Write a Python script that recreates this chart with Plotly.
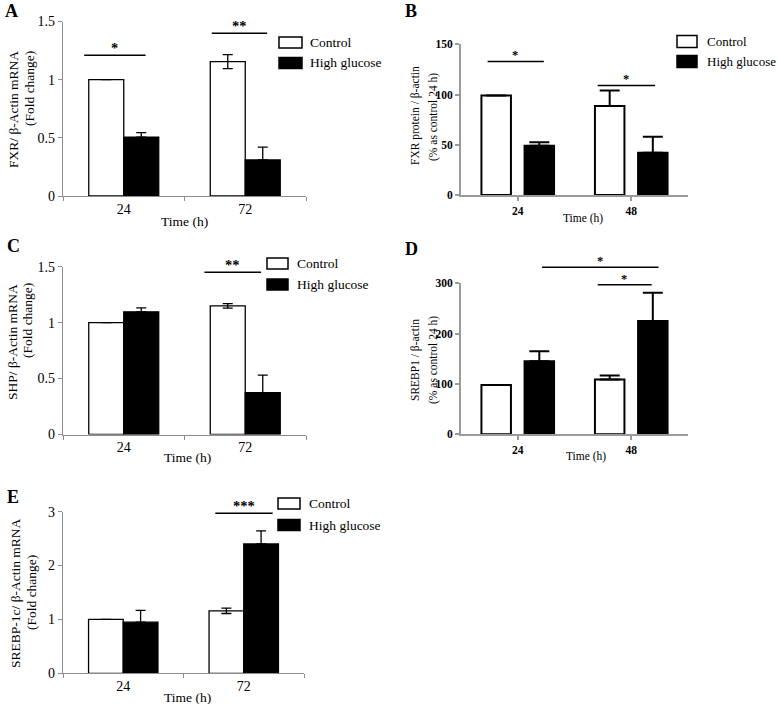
import plotly.graph_objects as go

W, H = 778, 704
SERIF = "Liberation Serif, Times New Roman, serif"

# ---------------- data ----------------
# Panel A: FXR mRNA
a_times = ["24", "72"]
a_control = [1.00, 1.155]
a_control_err = [0.0, 0.06]
a_control_err_minus = [0.0, 0.06]
a_hg = [0.505, 0.31]
a_hg_err = [0.04, 0.11]
a_yticks = [0, 0.5, 1, 1.5]
a_sig_x0 = [-0.33, 0.72]
a_sig_x1 = [0.18, 1.18]
a_sig_y = [1.21, 1.40]
a_sig_text = ["*", "**"]

# Panel B: FXR protein
b_times = ["24", "48"]
b_control = [99, 88.5]
b_control_err = [0, 15.5]
b_control_err_minus = [0, 0]
b_hg = [49, 42]
b_hg_err = [3.5, 16]
b_yticks = [0, 50, 100, 150]
b_sig_x0 = [-0.27, 0.70]
b_sig_x1 = [0.23, 1.21]
b_sig_y = [133, 109]
b_sig_text = ["*", "*"]

# Panel C: SHP mRNA
c_times = ["24", "72"]
c_control = [1.00, 1.15]
c_control_err = [0.0, 0.02]
c_control_err_minus = [0.0, 0.02]
c_hg = [1.097, 0.375]
c_hg_err = [0.035, 0.155]
c_yticks = [0, 0.5, 1, 1.5]
c_sig_x0 = [0.66]
c_sig_x1 = [1.13]
c_sig_y = [1.45]
c_sig_text = ["**"]

# Panel D: SREBP1 protein
d_times = ["24", "48"]
d_control = [98, 109]
d_control_err = [0, 8]
d_control_err_minus = [0, 0]
d_hg = [145, 225]
d_hg_err = [20, 56]
d_yticks = [0, 100, 200, 300]
d_sig_x0 = [0.21, 0.70]
d_sig_x1 = [1.24, 1.18]
d_sig_y = [332, 297]
d_sig_text = ["*", "*"]

# Panel E: SREBP-1c mRNA
e_times = ["24", "72"]
e_control = [1.00, 1.16]
e_control_err = [0.0, 0.05]
e_control_err_minus = [0.0, 0.05]
e_hg = [0.95, 2.40]
e_hg_err = [0.22, 0.245]
e_yticks = [0, 1, 2, 3]
e_sig_x0 = [0.76]
e_sig_x1 = [1.24]
e_sig_y = [2.97]
e_sig_text = ["***"]

series_names = ["Control", "High glucose"]
x_title = "Time (h)"


def fx(px):
    return px / W


def fy(py):
    return 1 - py / H


excel = dict(style="excel", font=13.5, tickfont=14, axcolor="#8c8c8c", axw=1.2,
             barline=1.3, barw=0.288, off_c=-0.288, off_h=0.0, ew=5, et=1.3,
             tickson="boundaries", tickbold=False, legfont=13.5)
prism = dict(style="prism", font=11.5, tickfont=11.5, axcolor="#9a9a9a", axw=2,
             barline=2, barw=0.26, off_c=-0.32, off_h=0.06, ew=10, et=2,
             tickson="labels", tickbold=True, legfont=13)

panels = [
    dict(letter="A", st=excel, times=a_times, ctrl=a_control, ctrl_e=a_control_err,
         ctrl_em=a_control_err_minus, hg=a_hg, hg_e=a_hg_err, yticks=a_yticks,
         sx0=a_sig_x0, sx1=a_sig_x1, sy=a_sig_y, st_text=a_sig_text,
         ytitle=["FXR/ β-Actin mRNA", "(Fold change)"],
         x0=63, x1=306, ybot=196, ytop=21.5, letter_pos=(3, 11),
         ytitle_x=(13, 29), ytitle_y=(110, 89), xtitle_pos=(184, 221),
         legend=dict(bx0=279, bx1=302, y=(42.5, 63), h=11, tx=308)),
    dict(letter="B", st=prism, times=b_times, ctrl=b_control, ctrl_e=b_control_err,
         ctrl_em=b_control_err_minus, hg=b_hg, hg_e=b_hg_err, yticks=b_yticks,
         sx0=b_sig_x0, sx1=b_sig_x1, sy=b_sig_y, st_text=b_sig_text,
         ytitle=["FXR protein / β-actin", "(% as control 24 h)"],
         x0=461, x1=688, ybot=195, ytop=44.3, letter_pos=(403, 11),
         ytitle_x=(415, 433), ytitle_y=(116, 117), xtitle_pos=(583, 219),
         legend=dict(bx0=677, bx1=697, y=(41.5, 61.5), h=12, tx=705)),
    dict(letter="C", st=excel, times=c_times, ctrl=c_control, ctrl_e=c_control_err,
         ctrl_em=c_control_err_minus, hg=c_hg, hg_e=c_hg_err, yticks=c_yticks,
         sx0=c_sig_x0, sx1=c_sig_x1, sy=c_sig_y, st_text=c_sig_text,
         ytitle=["SHP/ β-Actin mRNA", "(Fold change)"],
         x0=63, x1=306, ybot=434.5, ytop=266.7, letter_pos=(5, 246),
         ytitle_x=(12, 27), ytitle_y=(342, 321), xtitle_pos=(187, 458),
         legend=dict(bx0=267, bx1=288, y=(263.5, 284.5), h=11, tx=295)),
    dict(letter="D", st=prism, times=d_times, ctrl=d_control, ctrl_e=d_control_err,
         ctrl_em=d_control_err_minus, hg=d_hg, hg_e=d_hg_err, yticks=d_yticks,
         sx0=d_sig_x0, sx1=d_sig_x1, sy=d_sig_y, st_text=d_sig_text,
         ytitle=["SREBP1 / β-actin", "(% as control 24 h)"],
         x0=461, x1=688, ybot=434.3, ytop=283.3, letter_pos=(403, 249),
         ytitle_x=(415, 433), ytitle_y=(360, 360), xtitle_pos=(586, 456),
         legend=None),
    dict(letter="E", st=excel, times=e_times, ctrl=e_control, ctrl_e=e_control_err,
         ctrl_em=e_control_err_minus, hg=e_hg, hg_e=e_hg_err, yticks=e_yticks,
         sx0=e_sig_x0, sx1=e_sig_x1, sy=e_sig_y, st_text=e_sig_text,
         ytitle=["SREBP-1c/ β-Actin mRNA", "(Fold change)"],
         x0=63, x1=304, ybot=673.3, ytop=511.7, letter_pos=(5, 497),
         ytitle_x=(15, 31), ytitle_y=(593, 593), xtitle_pos=(187, 697),
         legend=dict(bx0=278, bx1=300, y=(503.5, 525), h=11, tx=307)),
]

fig = go.Figure()
annotations = []
shapes = []
layout_axes = {}

for i, p in enumerate(panels, start=1):
    st = p["st"]
    xa = "x" if i == 1 else f"x{i}"
    ya = "y" if i == 1 else f"y{i}"
    ymax = p["yticks"][-1]

    fig.add_trace(go.Bar(
        x=p["times"], y=p["ctrl"], width=st["barw"], offset=st["off_c"],
        name=series_names[0], showlegend=False, hoverinfo="skip",
        marker=dict(color="white", line=dict(color="black", width=st["barline"])),
        error_y=dict(type="data", symmetric=False, array=p["ctrl_e"],
                     arrayminus=p["ctrl_em"], color="black",
                     thickness=st["et"], width=st["ew"]),
        xaxis=xa, yaxis=ya))
    fig.add_trace(go.Bar(
        x=p["times"], y=p["hg"], width=st["barw"], offset=st["off_h"],
        name=series_names[1], showlegend=False, hoverinfo="skip",
        marker=dict(color="black", line=dict(color="black", width=st["barline"])),
        error_y=dict(type="data", symmetric=False, array=p["hg_e"],
                     arrayminus=[0] * len(p["hg_e"]), color="black",
                     thickness=st["et"], width=st["ew"]),
        xaxis=xa, yaxis=ya))

    tickfont = dict(family=SERIF, size=st["tickfont"], color="black",
                    weight="bold" if st["tickbold"] else "normal")

    layout_axes["xaxis" if i == 1 else f"xaxis{i}"] = dict(
        domain=[fx(p["x0"]), fx(p["x1"])], anchor=ya, type="category",
        categoryorder="array", categoryarray=p["times"], range=[-0.5, 1.5],
        showline=True, linecolor=st["axcolor"], linewidth=st["axw"],
        ticks="outside", ticklen=4, tickcolor=st["axcolor"], tickwidth=st["axw"],
        tickson=st["tickson"], showgrid=False, zeroline=False, automargin=False,
        tickfont=tickfont, fixedrange=True)
    layout_axes["yaxis" if i == 1 else f"yaxis{i}"] = dict(
        domain=[fy(p["ybot"]), fy(p["ytop"])], anchor=xa, range=[0, ymax],
        tickvals=p["yticks"], showline=True, linecolor=st["axcolor"],
        linewidth=st["axw"], ticks="outside", ticklen=4, tickcolor=st["axcolor"],
        tickwidth=st["axw"], showgrid=False, zeroline=False, automargin=False,
        tickfont=tickfont, fixedrange=True)

    # significance bars and stars (y in axis-domain units = value / axis max,
    # so that bars above the top of the axis are still drawn)
    ydom = f"{ya} domain"
    for x0, x1, yv, t in zip(p["sx0"], p["sx1"], p["sy"], p["st_text"]):
        yf = yv / ymax
        annotations.append(dict(
            x=x1, y=yf, ax=x0, ay=yf, xref=xa, yref=ydom, axref=xa, ayref=ydom,
            showarrow=True, arrowhead=0, arrowwidth=1.5, arrowcolor="black",
            text="", standoff=0, startstandoff=0, borderpad=0))
        annotations.append(dict(
            x=(x0 + x1) / 2, y=yf, xref=xa, yref=ydom, text=t, showarrow=False,
            yanchor="bottom", xanchor="center", yshift=-3,
            font=dict(family=SERIF, size=st["font"] + 1, color="black",
                      weight="bold")))

    # panel letter
    lx, ly = p["letter_pos"]
    annotations.append(dict(
        x=fx(lx), y=fy(ly), xref="paper", yref="paper", text=p["letter"],
        showarrow=False, xanchor="left", yanchor="middle",
        font=dict(family=SERIF, size=18, color="black", weight="bold")))

    title_size = st["font"] if st["style"] == "prism" else 13.5
    # y title (two lines)
    for tx, tyv, line in zip(p["ytitle_x"], p["ytitle_y"], p["ytitle"]):
        annotations.append(dict(
            x=fx(tx), y=fy(tyv), xref="paper", yref="paper",
            text=line, showarrow=False, textangle=-90,
            xanchor="center", yanchor="middle",
            font=dict(family=SERIF, size=title_size, color="black")))

    # x title
    xtx, xty = p["xtitle_pos"]
    annotations.append(dict(
        x=fx(xtx), y=fy(xty), xref="paper", yref="paper", text=x_title,
        showarrow=False, xanchor="center", yanchor="middle",
        font=dict(family=SERIF, size=title_size, color="black")))

    # legend
    lg = p["legend"]
    if lg:
        for k, (yc, fill) in enumerate(zip(lg["y"], ["white", "black"])):
            shapes.append(dict(
                type="rect", xref="paper", yref="paper",
                x0=fx(lg["bx0"]), x1=fx(lg["bx1"]),
                y0=fy(yc + lg["h"] / 2), y1=fy(yc - lg["h"] / 2),
                fillcolor=fill, line=dict(color="black", width=1.5)))
            annotations.append(dict(
                x=fx(lg["tx"]), y=fy(yc), xref="paper", yref="paper",
                text=series_names[k], showarrow=False,
                xanchor="left", yanchor="middle",
                font=dict(family=SERIF, size=st["legfont"], color="black")))

fig.update_layout(
    width=W, height=H,
    margin=dict(l=0, r=0, t=0, b=0, autoexpand=False),
    paper_bgcolor="white", plot_bgcolor="white",
    barmode="overlay", showlegend=False,
    annotations=annotations, shapes=shapes,
    font=dict(family=SERIF, color="black"),
    **layout_axes)

fig.write_html(
    "out.html",
    config={"displayModeBar": False},
    post_script="document.body.style.margin='0px';"
                "document.body.style.overflow='hidden';",
)
